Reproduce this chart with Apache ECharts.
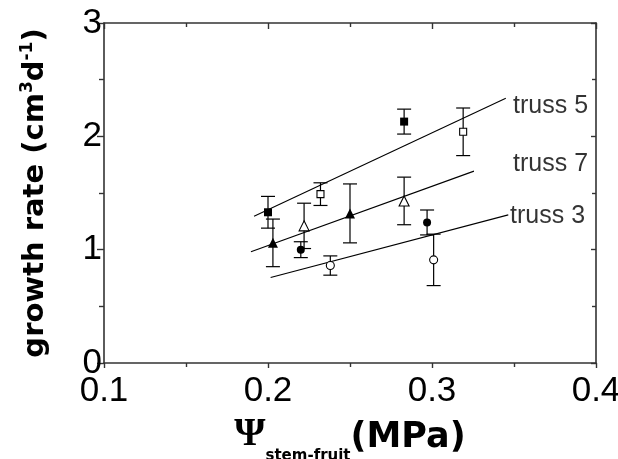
<!DOCTYPE html>
<html>
<head>
<meta charset="utf-8">
<script src="https://cdn.jsdelivr.net/npm/echarts@6/dist/echarts.min.js"></script>
<style>
  html, body { margin: 0; padding: 0; background: #fff; }
  #chart { width: 618px; height: 459px; }
</style>
</head>
<body>
<div id="chart"></div>
<script>
// Fruit growth rate against stem-to-fruit water potential gradient, three trusses.
// Each point: [psi (MPa), growth rate (cm3 d-1), standard error]
const truss5Filled = [[0.200, 1.33, 0.14], [0.283, 2.13, 0.11]];
const truss5Open   = [[0.232, 1.49, 0.10], [0.319, 2.04, 0.21]];
const truss7Filled = [[0.203, 1.06, 0.21], [0.250, 1.32, 0.26]];
const truss7Open   = [[0.222, 1.21, 0.20], [0.283, 1.43, 0.21]];
const truss3Filled = [[0.220, 1.00, 0.07], [0.297, 1.24, 0.11]];
const truss3Open   = [[0.238, 0.86, 0.085], [0.301, 0.91, 0.227]];

// Linear fits, given as their two end points
const fit5 = [[0.1915, 1.295], [0.345, 2.336]];
const fit7 = [[0.1896, 0.982], [0.3256, 1.693]];
const fit3 = [[0.2016, 0.755], [0.3465, 1.307]];

// Line label anchors
const lineLabels = [
  { name: 'truss 5', value: [0.3494, 2.265] },
  { name: 'truss 7', value: [0.3494, 1.752] },
  { name: 'truss 3', value: [0.3476, 1.300] }
];

const xTicks = [0.1, 0.2, 0.3, 0.4];
const yTicks = [0, 1, 2, 3];

const FONT = '"Liberation Sans", Arial, Helvetica, sans-serif';
const TITLE_FONT = '"DejaVu Sans", "Liberation Sans", Arial, sans-serif';
const INK = '#000';
const FRAME = '#333';

const chart = echarts.init(document.getElementById('chart'), null, { renderer: 'canvas' });

function errorBars(points) {
  return {
    type: 'custom',
    silent: true,
    z: 2,
    data: points,
    renderItem: function (params, api) {
      const x = api.value(0), y = api.value(1), e = api.value(2);
      const top = api.coord([x, y + e]);
      const bot = api.coord([x, y - e]);
      const hw = 7;
      const st = { stroke: INK, lineWidth: 1.2 };
      return {
        type: 'group',
        children: [
          { type: 'line', shape: { x1: top[0], y1: top[1], x2: bot[0], y2: bot[1] }, style: st },
          { type: 'line', shape: { x1: top[0] - hw, y1: top[1], x2: top[0] + hw, y2: top[1] }, style: st },
          { type: 'line', shape: { x1: bot[0] - hw, y1: bot[1], x2: bot[0] + hw, y2: bot[1] }, style: st }
        ]
      };
    }
  };
}

function markers(points, symbol, size, filled) {
  return {
    type: 'scatter',
    z: 5,
    symbol: symbol,
    symbolSize: size,
    data: points.map(p => [p[0], p[1]]),
    itemStyle: {
      color: filled ? INK : '#fff',
      borderColor: INK,
      borderWidth: filled ? 0 : 1.1,
      opacity: 1
    }
  };
}

function fitLine(points) {
  return {
    type: 'line',
    z: 3,
    data: points,
    symbol: 'none',
    lineStyle: { color: INK, width: 1.1 },
    animation: false
  };
}

const option = {
  animation: false,
  backgroundColor: '#fff',
  grid: {
    left: 104, right: 22, top: 23, bottom: 96,
    containLabel: false,
    outerBoundsMode: 'none'
  },
  xAxis: [
    {
      type: 'value', min: xTicks[0], max: xTicks[xTicks.length - 1], interval: 0.1,
      position: 'bottom',
      axisLine: { show: true, lineStyle: { color: FRAME, width: 1.6 } },
      axisTick: { show: true, inside: false, length: 5, lineStyle: { color: FRAME, width: 1.4 } },
      minorTick: { show: true, splitNumber: 2, length: 4, lineStyle: { color: FRAME, width: 1.4 } },
      splitLine: { show: false },
      axisLabel: { fontFamily: FONT, fontSize: 35, color: INK, margin: 11,
                   formatter: v => v.toFixed(1) },
      name: '{psi|Ψ}{sub|stem-fruit}{unit|(MPa)}',
      nameLocation: 'middle',
      nameGap: 54,
      nameTextStyle: {
        rich: {
          psi: { fontFamily: '"Liberation Serif", "Times New Roman", serif', fontWeight: 'bold', fontSize: 40, color: INK, verticalAlign: 'bottom', lineHeight: 38 },
          sub: { fontFamily: TITLE_FONT, fontWeight: 'bold', fontSize: 15, color: INK, verticalAlign: 'bottom', padding: [0, 0, -9, 0] },
          unit: { fontFamily: TITLE_FONT, fontWeight: 'bold', fontSize: 35, color: INK, verticalAlign: 'bottom', lineHeight: 38 }
        }
      }
    },
    {
      type: 'value', min: xTicks[0], max: xTicks[xTicks.length - 1], interval: 0.1,
      position: 'top',
      axisLine: { show: true, onZero: false, lineStyle: { color: FRAME, width: 1.6 } },
      axisTick: { show: true, inside: true, length: 6, lineStyle: { color: FRAME, width: 1.4 } },
      minorTick: { show: true, splitNumber: 2, length: 4, lineStyle: { color: FRAME, width: 1.4 } },
      splitLine: { show: false },
      axisLabel: { show: false }
    }
  ],
  yAxis: [
    {
      type: 'value', min: yTicks[0], max: yTicks[yTicks.length - 1], interval: 1,
      position: 'left',
      axisLine: { show: true, lineStyle: { color: FRAME, width: 1.6 } },
      axisTick: { show: true, inside: false, length: 7, lineStyle: { color: FRAME, width: 1.4 } },
      minorTick: { show: true, splitNumber: 2, length: 5, lineStyle: { color: FRAME, width: 1.4 } },
      splitLine: { show: false },
      axisLabel: { fontFamily: FONT, fontSize: 35, color: INK, margin: 2 },
      name: 'growth rate (cm{sup|3}d{sup|-1})',
      nameLocation: 'middle',
      nameGap: 52,
      nameTextStyle: {
        fontFamily: TITLE_FONT, fontWeight: 'bold', fontSize: 29, color: INK,
        rich: {
          sup: { fontFamily: TITLE_FONT, fontWeight: 'bold', fontSize: 17, color: INK, verticalAlign: 'top', padding: [0, 0, 16, 0] }
        }
      }
    },
    {
      type: 'value', min: yTicks[0], max: yTicks[yTicks.length - 1], interval: 1,
      position: 'right',
      axisLine: { show: true, onZero: false, lineStyle: { color: FRAME, width: 1.6 } },
      axisTick: { show: true, inside: true, length: 5, lineStyle: { color: FRAME, width: 1.4 } },
      minorTick: { show: true, splitNumber: 2, length: 4, lineStyle: { color: FRAME, width: 1.4 } },
      splitLine: { show: false },
      axisLabel: { show: false }
    }
  ],
  series: [
    fitLine(fit5), fitLine(fit7), fitLine(fit3),
    errorBars(truss5Filled), errorBars(truss5Open),
    errorBars(truss7Filled), errorBars(truss7Open),
    errorBars(truss3Filled), errorBars(truss3Open),
    markers(truss5Filled, 'rect', 8, true),
    markers(truss5Open, 'rect', 7, false),
    markers(truss7Filled, 'triangle', 10, true),
    markers(truss7Open, 'triangle', 10, false),
    markers(truss3Filled, 'circle', 8, true),
    markers(truss3Open, 'circle', 8, false),
    {
      type: 'scatter',
      z: 6,
      symbolSize: 0,
      data: lineLabels,
      label: {
        show: true,
        position: 'right',
        distance: 0,
        formatter: p => p.name,
        fontFamily: FONT,
        fontSize: 25,
        color: INK
      }
    }
  ]
};

chart.setOption(option);
</script>
</body>
</html>
